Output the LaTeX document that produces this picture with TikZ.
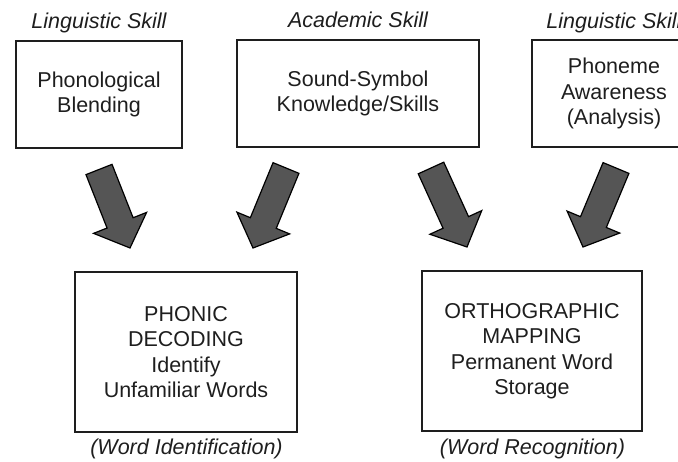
\documentclass[tikz,border=0pt]{standalone}
\usepackage{fontspec}
\setmainfont{Liberation Sans}
\usetikzlibrary{calc}
\definecolor{grigio}{HTML}{555555}
\definecolor{inchiostro}{HTML}{1E1E1E}
\tikzset{
  riquadro/.style={draw=inchiostro,line width=1.4pt,text=inchiostro,align=center,
    inner sep=0pt,font=\fontsize{21.5}{25.5}\selectfont},
  abilita/.style={anchor=base,text=inchiostro,font=\fontsize{21.5}{25.5}\selectfont\itshape},
  freccia/.style={fill=grigio,draw=black,line width=1.2pt,line join=miter}
}
% freccia piena: #1 coda, #2 punta
\newcommand{\freccione}[2]{%
  \coordinate (h) at ($(#2)!27pt!(#1)$);
  \filldraw[freccia] ($(#1)!14pt!90:(#2)$) -- ($(h)!14pt!90:(#2)$) -- ($(h)!28.5pt!90:(#2)$)
    -- (#2) -- ($(h)!28.5pt!-90:(#2)$) -- ($(h)!14pt!-90:(#2)$) -- ($(#1)!14pt!-90:(#2)$) -- cycle;}
\begin{document}
\begin{tikzpicture}[x=1pt,y=-1pt]
  \useasboundingbox (0,0) rectangle (678,462);
  \clip (0,0) rectangle (678,462);
  % riquadri in alto
  \node[riquadro,minimum width=166pt,minimum height=107pt] (blend) at (99,94.5) {Phonological\\Blending};
  \node[riquadro,minimum width=242pt,minimum height=107pt] (sound) at (358,93.5) {Sound-Symbol\\Knowledge/Skills};
  \node[riquadro,minimum width=164pt,minimum height=107pt] (phon) at (614,93.5) {Phoneme\\Awareness\\(Analysis)};
  \node[abilita] (lab1) at (99,29) {Linguistic Skill};
  \node[abilita] (lab2) at (358,28) {Academic Skill};
  \node[abilita] (lab3) at (614,29) {Linguistic Skill};
  % riquadri in basso
  \node[riquadro,minimum width=222pt,minimum height=160pt] (dec) at (186,352) {PHONIC\\DECODING\\Identify\\Unfamiliar Words};
  \node[riquadro,minimum width=220pt,minimum height=160pt] (orto) at (532,351) {ORTHOGRAPHIC\\MAPPING\\Permanent Word\\Storage};
  \node[abilita] (id) at (186.5,455) {(Word Identification)};
  \node[abilita] (rec) at (532.5,455) {(Word Recognition)};
  % frecce
  \coordinate (c1) at (99,169.5); \coordinate (p1) at (130,248);
  \coordinate (c2) at (286,168);  \coordinate (p2) at (253,248);
  \coordinate (c3) at (431,168);  \coordinate (p3) at (467,247);
  \coordinate (c4) at (616,168);  \coordinate (p4) at (583,247);
  \freccione{c1}{p1} %freccia 1
  \freccione{c2}{p2} %freccia 2
  \freccione{c3}{p3} %freccia 3
  \freccione{c4}{p4} %freccia 4
\end{tikzpicture}
\end{document}
